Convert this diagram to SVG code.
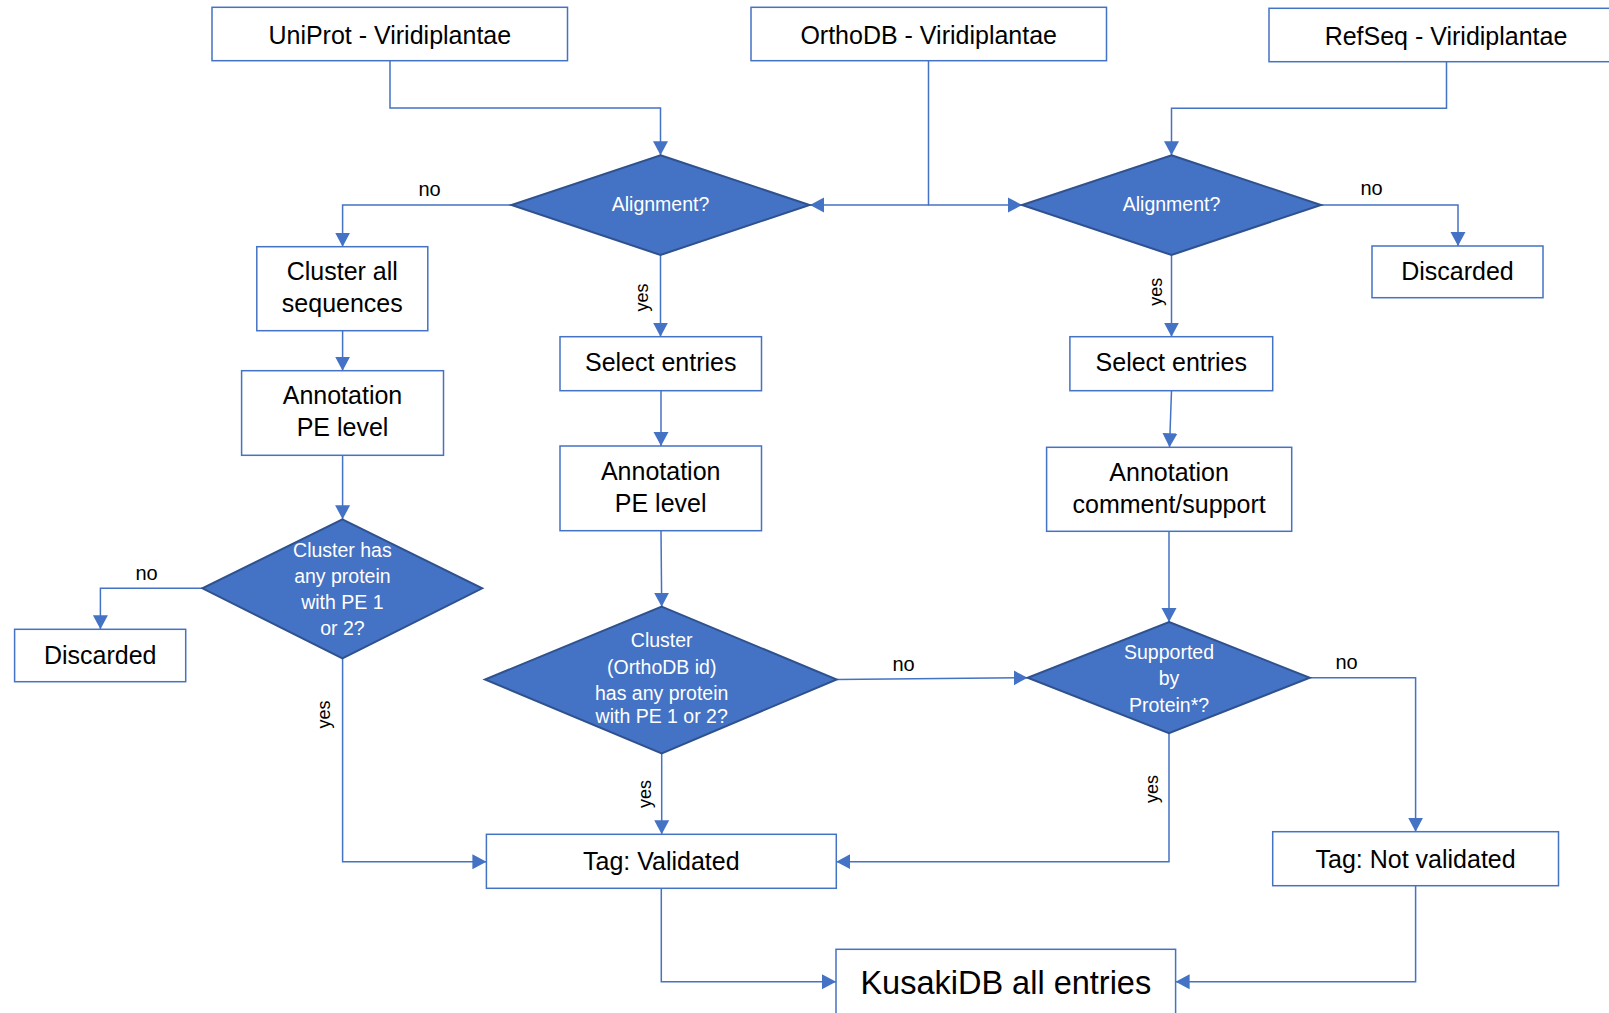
<svg xmlns="http://www.w3.org/2000/svg" width="1609" height="1013" viewBox="0 0 1609 1013">
<style>
.box{fill:#fff;stroke:#4472C4;stroke-width:1.5}
.dia{fill:#4472C4;stroke:#2F528F;stroke-width:2}
.bt{font-family:"Liberation Sans",Arial,sans-serif;font-size:25px;fill:#000;text-anchor:middle}
.dt{font-family:"Liberation Sans",Arial,sans-serif;font-size:19.5px;fill:#fff;text-anchor:middle}
.lb{font-family:"Liberation Sans",Arial,sans-serif;font-size:20px;fill:#000;text-anchor:middle}
.yl{font-family:"Liberation Sans",Arial,sans-serif;font-size:18px;fill:#000;text-anchor:middle}
.c{fill:none;stroke:#4472C4;stroke-width:1.5}
</style>
<defs>
<marker id="ah" markerUnits="userSpaceOnUse" markerWidth="15" markerHeight="16" refX="14" refY="7.5" orient="auto" viewBox="0 0 15 15">
<path d="M0,0 L14,7.5 L0,15 z" fill="#4472C4"/>
</marker>
</defs>
<rect width="1609" height="1013" fill="#fff"/>

<g id="connectors">
<path class="c" d="M390,60.7 V108 H660.5 V155.3" marker-end="url(#ah)"/>
<path class="c" d="M928.5,60.7 V205 H810" marker-end="url(#ah)"/>
<path class="c" d="M928.5,205 H1022" marker-end="url(#ah)"/>
<path class="c" d="M1446.5,61.7 V108.3 H1171.5 V155.3" marker-end="url(#ah)"/>
<path class="c" d="M511.5,205 H342.6 V246.7" marker-end="url(#ah)"/>
<path class="c" d="M660.5,255 V336.7" marker-end="url(#ah)"/>
<path class="c" d="M1321,205 H1458 V246" marker-end="url(#ah)"/>
<path class="c" d="M1171.5,255 V336.7" marker-end="url(#ah)"/>
<path class="c" d="M342.6,330.7 V370.7" marker-end="url(#ah)"/>
<path class="c" d="M342.6,455.3 V519.3" marker-end="url(#ah)"/>
<path class="c" d="M202.4,588.3 H100.4 V629.3" marker-end="url(#ah)"/>
<path class="c" d="M342.6,658.3 V861.7 H486.4" marker-end="url(#ah)"/>
<path class="c" d="M661,390.7 V446" marker-end="url(#ah)"/>
<path class="c" d="M661,530.7 L661.7,606.7" marker-end="url(#ah)"/>
<path class="c" d="M836.7,679.5 L1027.6,677.7" marker-end="url(#ah)"/>
<path class="c" d="M661.7,753.3 V834.3" marker-end="url(#ah)"/>
<path class="c" d="M1171.5,390.7 L1169.5,447.3" marker-end="url(#ah)"/>
<path class="c" d="M1169,531.3 V622" marker-end="url(#ah)"/>
<path class="c" d="M1309.8,677.7 H1415.6 V831.7" marker-end="url(#ah)"/>
<path class="c" d="M1169,733.3 V861.7 H836.3" marker-end="url(#ah)"/>
<path class="c" d="M661.3,888.3 V981.7 H836" marker-end="url(#ah)"/>
<path class="c" d="M1415.6,885.7 V981.7 H1175.6" marker-end="url(#ah)"/>
<text class="lb" x="429.5" y="195.5">no</text>
<text class="lb" x="1371.5" y="194.5">no</text>
<text class="lb" x="146.5" y="580">no</text>
<text class="lb" x="903.5" y="670.5">no</text>
<text class="lb" x="1346.5" y="669">no</text>
<text class="yl" transform="translate(648,297.5) rotate(-90)">yes</text>
<text class="yl" transform="translate(1162,291.7) rotate(-90)">yes</text>
<text class="yl" transform="translate(329.5,714.5) rotate(-90)">yes</text>
<text class="yl" transform="translate(651,794) rotate(-90)">yes</text>
<text class="yl" transform="translate(1158,789) rotate(-90)">yes</text>
</g>

<g id="uniprot"><rect class="box" x="212" y="7.3" width="355.5" height="53.4"/><text class="bt" x="389.8" y="44">UniProt - Viridiplantae</text></g>
<g id="orthodb"><rect class="box" x="751" y="7.3" width="355.5" height="53.4"/><text class="bt" x="928.7" y="44">OrthoDB - Viridiplantae</text></g>
<g id="refseq"><rect class="box" x="1269" y="8.3" width="354" height="53.4"/><text class="bt" x="1446" y="45">RefSeq - Viridiplantae</text></g>

<g id="align1"><polygon class="dia" points="660.5,155.3 809.6,205 660.5,255 511.5,205"/><text class="dt" x="660.5" y="211">Alignment?</text></g>
<g id="align2"><polygon class="dia" points="1171.5,155.3 1321,205 1171.5,255 1022,205"/><text class="dt" x="1171.5" y="211">Alignment?</text></g>

<g id="cluster-all"><rect class="box" x="256.8" y="246.7" width="171" height="84"/><text class="bt" x="342.3" y="280">Cluster all</text><text class="bt" x="342.3" y="312">sequences</text></g>
<g id="annot-pe-left"><rect class="box" x="241.6" y="370.7" width="201.9" height="84.6"/><text class="bt" x="342.5" y="404">Annotation</text><text class="bt" x="342.5" y="436">PE level</text></g>
<g id="cluster-pe"><polygon class="dia" points="342.4,519.3 482.2,588.3 342.4,658.3 202.4,588.3"/><text class="dt" x="342.4" y="557">Cluster has</text><text class="dt" x="342.4" y="583">any protein</text><text class="dt" x="342.4" y="609">with PE 1</text><text class="dt" x="342.4" y="634.5">or 2?</text></g>
<g id="discarded-left"><rect class="box" x="14.6" y="629.3" width="171.1" height="52.4"/><text class="bt" x="100.2" y="663.5">Discarded</text></g>

<g id="select-mid"><rect class="box" x="560" y="336.7" width="201.5" height="54"/><text class="bt" x="660.7" y="371">Select entries</text></g>
<g id="annot-pe-mid"><rect class="box" x="560" y="446" width="201.5" height="84.7"/><text class="bt" x="660.7" y="479.5">Annotation</text><text class="bt" x="660.7" y="512">PE level</text></g>
<g id="cluster-orthodb"><polygon class="dia" points="661.7,606.7 836.7,679.5 661.7,753.3 485,679.5"/><text class="dt" x="661.7" y="646.5">Cluster</text><text class="dt" x="661.7" y="674">(OrthoDB id)</text><text class="dt" x="661.7" y="700">has any protein</text><text class="dt" x="661.7" y="723">with PE 1 or 2?</text></g>
<g id="tag-validated"><rect class="box" x="486.4" y="834.3" width="349.9" height="54"/><text class="bt" x="661.3" y="870">Tag: Validated</text></g>

<g id="select-right"><rect class="box" x="1069.9" y="336.7" width="202.8" height="54"/><text class="bt" x="1171.3" y="371">Select entries</text></g>
<g id="annot-comment"><rect class="box" x="1046.6" y="447.3" width="245.1" height="84"/><text class="bt" x="1169.1" y="480.5">Annotation</text><text class="bt" x="1169.1" y="512.5">comment/support</text></g>
<g id="supported"><polygon class="dia" points="1169,622 1309.8,677.7 1169,733.3 1027.6,677.7"/><text class="dt" x="1169" y="659.3">Supported</text><text class="dt" x="1169" y="685">by</text><text class="dt" x="1169" y="711.5">Protein*?</text></g>
<g id="discarded-right"><rect class="box" x="1372" y="246" width="171" height="51.7"/><text class="bt" x="1457.5" y="279.5">Discarded</text></g>
<g id="tag-not-validated"><rect class="box" x="1272.7" y="831.7" width="285.8" height="54"/><text class="bt" x="1415.6" y="868">Tag: Not validated</text></g>

<g id="kusakidb"><rect class="box" x="836" y="949.3" width="339.6" height="80"/><text class="bt" x="1005.8" y="993.5" style="font-size:32.5px">KusakiDB all entries</text></g>
</svg>
